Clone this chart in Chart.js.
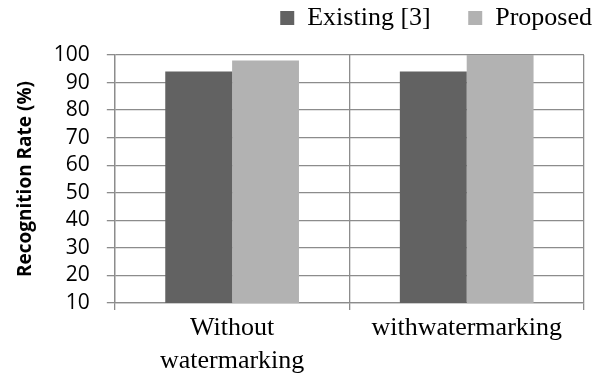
<!DOCTYPE html>
<html>
<head>
<meta charset="utf-8">
<script src="https://cdn.jsdelivr.net/npm/chart.js@4.4.1/dist/chart.umd.min.js"></script>
<style>
  html, body { margin: 0; padding: 0; background: #fff; }
</style>
</head>
<body>
<canvas id="rateChart" width="599" height="379"></canvas>
<script>
const categories = [['Without', 'watermarking'], 'withwatermarking'];
const seriesNames = ['Existing [3]', 'Proposed'];
const existing = [94, 94];
const proposed = [98, 100];
const yTicks = [10, 20, 30, 40, 50, 60, 70, 80, 90, 100];

const gridGray = '#8c8c8c';

const data = {
    labels: categories,
    datasets: [{
        label: seriesNames[0],
        data: existing,
        backgroundColor: '#626262'
    }, {
        label: seriesNames[1],
        data: proposed,
        backgroundColor: '#b2b2b2'
    }]
}

// push the plot down under the legend and let the legend run to the right edge
const legendSpace = {
    id: 'legendSpace',
    beforeInit(chart) {
        const fitValue = chart.legend.fit;
        chart.legend.fit = function fit() {
            fitValue.bind(chart.legend)();
            this.height += 14;
        }
    },
    afterLayout(chart) {
        chart.legend.right = chart.width - 2;
    }
}

const config = {
    type: 'bar',
    data,
    options: {
        responsive: false,
        animation: false,
        layout: { padding: { top: 0, right: 15, left: 12, bottom: 0 } },
        datasets: { bar: { categoryPercentage: 0.57, barPercentage: 1 } },
        plugins: {
            tooltip: { enabled: false },
            legend: {
                position: 'top',
                align: 'end',
                labels: {
                    boxWidth: 14,
                    boxHeight: 14,
                    color: '#000',
                    padding: 5,
                    font: { family: 'Liberation Serif', size: 26 },
                    generateLabels: (chart) => Chart.defaults.plugins.legend.labels.generateLabels(chart)
                        .map((item, i) => ({ ...item, text: i === 0 ? item.text + '     ' : item.text }))
                }
            }
        },
        scales: {
            x: {
                grid: { offset: true, color: gridGray, lineWidth: 1.3, tickLength: 7 },
                border: { color: gridGray, width: 1.3 },
                ticks: {
                    color: '#000',
                    padding: 2,
                    maxRotation: 0,
                    font: { family: 'Liberation Serif', size: 26, lineHeight: 1.25 }
                }
            },
            y: {
                min: 10,
                max: 100,
                afterBuildTicks: (axis) => { axis.ticks = yTicks.map(v => ({ value: v })); },
                grid: { color: gridGray, lineWidth: 1.3, tickLength: 8 },
                border: { color: gridGray, width: 1.3 },
                ticks: {
                    color: '#000',
                    padding: 17,
                    autoSkip: false,
                    font: { family: 'Open Sans', size: 21 }
                },
                title: {
                    display: true,
                    text: 'Recognition Rate (%)',
                    color: '#000',
                    padding: { top: 2, bottom: 0 },
                    font: { family: 'Open Sans', size: 19, weight: 'bold' }
                }
            }
        }
    },
    plugins: [legendSpace]
}

const myChart = new Chart(document.getElementById('rateChart'), config);
</script>
</body>
</html>
